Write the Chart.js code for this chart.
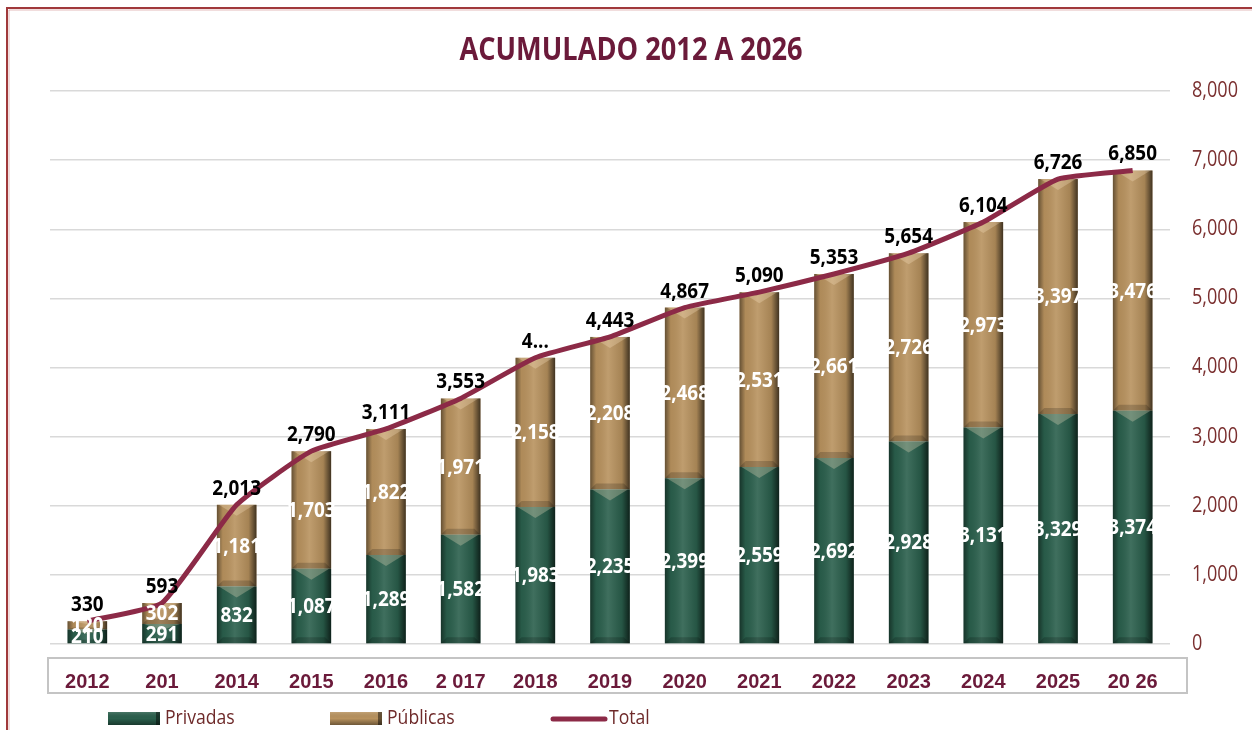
<!DOCTYPE html>
<html>
<head>
<meta charset="utf-8">
<script src="https://cdn.jsdelivr.net/npm/chart.js@4.4.1/dist/chart.umd.min.js"></script>
<style>
  html, body { margin: 0; padding: 0; background: #fff; }
  #wrap { width: 1252px; height: 730px; position: relative; }
</style>
</head>
<body>
<div id="wrap"><canvas id="graphCanvas"></canvas></div>
<script>
var anios = ['2012', '201', '2014', '2015', '2016', '2 017', '2018', '2019', '2020', '2021', '2022', '2023', '2024', '2025', '20 26'];
var privadas = [210, 291, 832, 1087, 1289, 1582, 1983, 2235, 2399, 2559, 2692, 2928, 3131, 3329, 3374];
var publicas = [120, 302, 1181, 1703, 1822, 1971, 2158, 2208, 2468, 2531, 2661, 2726, 2973, 3397, 3476];
var total = [330, 593, 2013, 2790, 3111, 3553, 4141, 4443, 4867, 5090, 5353, 5654, 6104, 6726, 6850];
// etiquetas de total como salen en la imagen (2018 sale cortada)
var totalTexto = ['330', '593', '2,013', '2,790', '3,111', '3,553', '4...', '4,443', '4,867', '5,090', '5,353', '5,654', '6,104', '6,726', '6,850'];
var ticksY = [0, 1000, 2000, 3000, 4000, 5000, 6000, 7000, 8000];
var titulo = 'ACUMULADO 2012 A 2026';

var FUENTE = '"Open Sans", "Noto Sans", sans-serif';
var verde = '#2a5f4c';
var cafe = '#b8925e';
var vino = '#8c2a47';

function formatNum(v) {
  return v.toString().replace(/(\d)(?=(\d\d\d)+(?!\d))/g, "$1,");
}

// texto angosto (la fuente original es condensada)
function textoAngosto(ctx, texto, x, y, sx) {
  ctx.save();
  ctx.translate(x, y);
  ctx.scale(sx, 1);
  ctx.fillText(texto, 0, 0);
  ctx.restore();
}

// marco, caja del eje x, titulo y etiquetas del eje y
var marcoPlugin = {
  id: 'marco',
  beforeDraw: function (chart) {
    var ctx = chart.ctx, a = chart.chartArea;
    ctx.save();
    ctx.strokeStyle = '#a0393b';
    ctx.lineWidth = 2;
    ctx.beginPath();
    ctx.moveTo(7, chart.height);
    ctx.lineTo(7, 8);
    ctx.lineTo(chart.width, 8);
    ctx.stroke();
    ctx.strokeStyle = 'rgba(200,120,120,0.5)';
    ctx.lineWidth = 1;
    ctx.beginPath();
    ctx.moveTo(9, chart.height);
    ctx.lineTo(9, 10);
    ctx.lineTo(chart.width, 10);
    ctx.stroke();
    // caja de categorias
    ctx.strokeStyle = '#c4c4c4';
    ctx.lineWidth = 2;
    ctx.strokeRect(a.left - 2, a.bottom + 14, a.right - a.left + 19, 35);
    // titulo
    ctx.fillStyle = '#6b1a3a';
    ctx.font = 'bold 32px ' + FUENTE;
    ctx.textAlign = 'center';
    ctx.textBaseline = 'middle';
    textoAngosto(ctx, titulo, 631, 51, 0.85);
    // eje y derecho
    var y = chart.scales.y;
    ctx.fillStyle = '#7a2f2f';
    ctx.font = '21px ' + FUENTE;
    ctx.textAlign = 'left';
    ticksY.forEach(function (v) {
      textoAngosto(ctx, formatNum(v), a.right + 22, y.getPixelForValue(v), 0.86);
    });
    ctx.restore();
  }
};

// efecto biselado sobre las barras
var biselPlugin = {
  id: 'bisel',
  afterDatasetDraw: function (chart, args) {
    var meta = args.meta;
    if (meta.type !== 'bar') return;
    var ctx = chart.ctx;
    meta.data.forEach(function (el) {
      var p = el.getProps(['x', 'y', 'base', 'width'], true);
      var l = p.x - p.width / 2, r = p.x + p.width / 2;
      var top = Math.min(p.y, p.base), bot = Math.max(p.y, p.base);
      var h = bot - top;
      if (h <= 0) return;
      ctx.save();
      var g = ctx.createLinearGradient(l, 0, r, 0);
      g.addColorStop(0, 'rgba(0,0,0,0.45)');
      g.addColorStop(0.15, 'rgba(0,0,0,0.05)');
      g.addColorStop(0.45, 'rgba(255,255,255,0.10)');
      g.addColorStop(0.8, 'rgba(0,0,0,0.10)');
      g.addColorStop(1, 'rgba(0,0,0,0.65)');
      ctx.fillStyle = g;
      ctx.fillRect(l, top, p.width, h);
      var b = Math.min(11, h / 3);
      ctx.fillStyle = 'rgba(255,235,200,0.28)';
      ctx.beginPath();
      ctx.moveTo(l + 2, top);
      ctx.lineTo(r - 2, top);
      ctx.lineTo(p.x, top + b);
      ctx.closePath();
      ctx.fill();
      ctx.fillStyle = 'rgba(0,0,0,0.18)';
      ctx.beginPath();
      ctx.moveTo(l, bot);
      ctx.lineTo(r, bot);
      ctx.lineTo(r - 6, bot - Math.min(6, h / 4));
      ctx.lineTo(l + 6, bot - Math.min(6, h / 4));
      ctx.closePath();
      ctx.fill();
      ctx.restore();
    });
  }
};

// etiquetas de datos
var etiquetasPlugin = {
  id: 'etiquetas',
  afterDatasetsDraw: function (chart) {
    var ctx = chart.ctx;
    ctx.save();
    ctx.textAlign = 'center';
    ctx.textBaseline = 'middle';
    ctx.font = 'bold 21px ' + FUENTE;
    [0, 1].forEach(function (di) {
      var meta = chart.getDatasetMeta(di);
      var vals = chart.data.datasets[di].data;
      ctx.fillStyle = '#ffffff';
      meta.data.forEach(function (el, i) {
        var p = el.getProps(['x', 'y', 'base'], true);
        textoAngosto(ctx, formatNum(vals[i]), p.x, (p.y + p.base) / 2 + 1, 0.9);
      });
    });
    var lm = chart.getDatasetMeta(2);
    ctx.fillStyle = '#000000';
    lm.data.forEach(function (pt, i) {
      textoAngosto(ctx, totalTexto[i], pt.x, pt.y - 16, 0.9);
    });
    ctx.restore();
  }
};

// leyenda dibujada a mano
var leyendaPlugin = {
  id: 'leyendaPropia',
  afterDraw: function (chart) {
    var ctx = chart.ctx;
    var y = 718;
    ctx.save();
    ctx.font = '20px ' + FUENTE;
    ctx.textBaseline = 'middle';
    ctx.textAlign = 'left';
    var items = [
      { x: 108, color: verde, texto: 'Privadas', tipo: 'caja' },
      { x: 330, color: cafe, texto: 'Públicas', tipo: 'caja' },
      { x: 551, color: vino, texto: 'Total', tipo: 'linea' }
    ];
    items.forEach(function (it) {
      if (it.tipo === 'caja') {
        ctx.fillStyle = it.color;
        ctx.fillRect(it.x, y - 6, 52, 13);
        var g = ctx.createLinearGradient(0, y - 6, 0, y + 7);
        g.addColorStop(0, 'rgba(255,255,255,0.15)');
        g.addColorStop(0.5, 'rgba(0,0,0,0)');
        g.addColorStop(1, 'rgba(0,0,0,0.4)');
        ctx.fillStyle = g;
        ctx.fillRect(it.x, y - 6, 52, 13);
        ctx.fillStyle = 'rgba(0,0,0,0.45)';
        ctx.fillRect(it.x + 48, y - 6, 4, 13);
        ctx.fillStyle = '#6e2a2a';
        textoAngosto(ctx, it.texto, it.x + 57, y, 0.88);
      } else {
        ctx.strokeStyle = it.color;
        ctx.lineWidth = 5;
        ctx.lineCap = 'round';
        ctx.beginPath();
        ctx.moveTo(it.x + 2, y + 1);
        ctx.lineTo(it.x + 54, y + 1);
        ctx.stroke();
        ctx.fillStyle = '#6e2a2a';
        textoAngosto(ctx, it.texto, it.x + 58, y, 0.88);
      }
    });
    ctx.restore();
  }
};

var chartdata = {
  labels: anios,
  datasets: [
    {
      type: 'bar',
      label: 'Privadas',
      data: privadas,
      backgroundColor: verde,
      stack: 'obras',
      order: 1
    },
    {
      type: 'bar',
      label: 'Públicas',
      data: publicas,
      backgroundColor: cafe,
      stack: 'obras',
      order: 1
    },
    {
      type: 'line',
      label: 'Total',
      data: total,
      borderColor: vino,
      borderWidth: 5,
      pointRadius: 0,
      tension: 0.15,
      stack: 'total',
      order: 0
    }
  ]
};

var graphTarget = document.getElementById('graphCanvas');
var grafica = new Chart(graphTarget, {
  type: 'bar',
  data: chartdata,
  plugins: [marcoPlugin, biselPlugin, etiquetasPlugin, leyendaPlugin],
  options: {
    responsive: true,
    maintainAspectRatio: false,
    animation: false,
    layout: { padding: { left: 50, right: 0, top: 91, bottom: 40 } },
    datasets: {
      bar: { categoryPercentage: 1, barPercentage: 0.53 }
    },
    plugins: {
      legend: { display: false },
      tooltip: { enabled: false },
      title: { display: false }
    },
    scales: {
      x: {
        stacked: true,
        grid: { display: false, drawTicks: false },
        border: { display: false },
        ticks: {
          color: '#6b1a3a',
          font: { family: '"Liberation Sans", Arial, sans-serif', size: 20, weight: 'bold' },
          padding: 26,
          maxRotation: 0,
          autoSkip: false
        },
        afterFit: function (s) { s.height = 46; }
      },
      y: {
        position: 'right',
        stacked: true,
        min: ticksY[0],
        max: ticksY[ticksY.length - 1],
        grid: { color: '#d9d9d9', lineWidth: 1.5, drawTicks: false },
        border: { display: false },
        ticks: {
          stepSize: ticksY[1] - ticksY[0],
          display: false
        },
        afterFit: function (s) { s.width = 82; }
      }
    }
  }
});
</script>
</body>
</html>
